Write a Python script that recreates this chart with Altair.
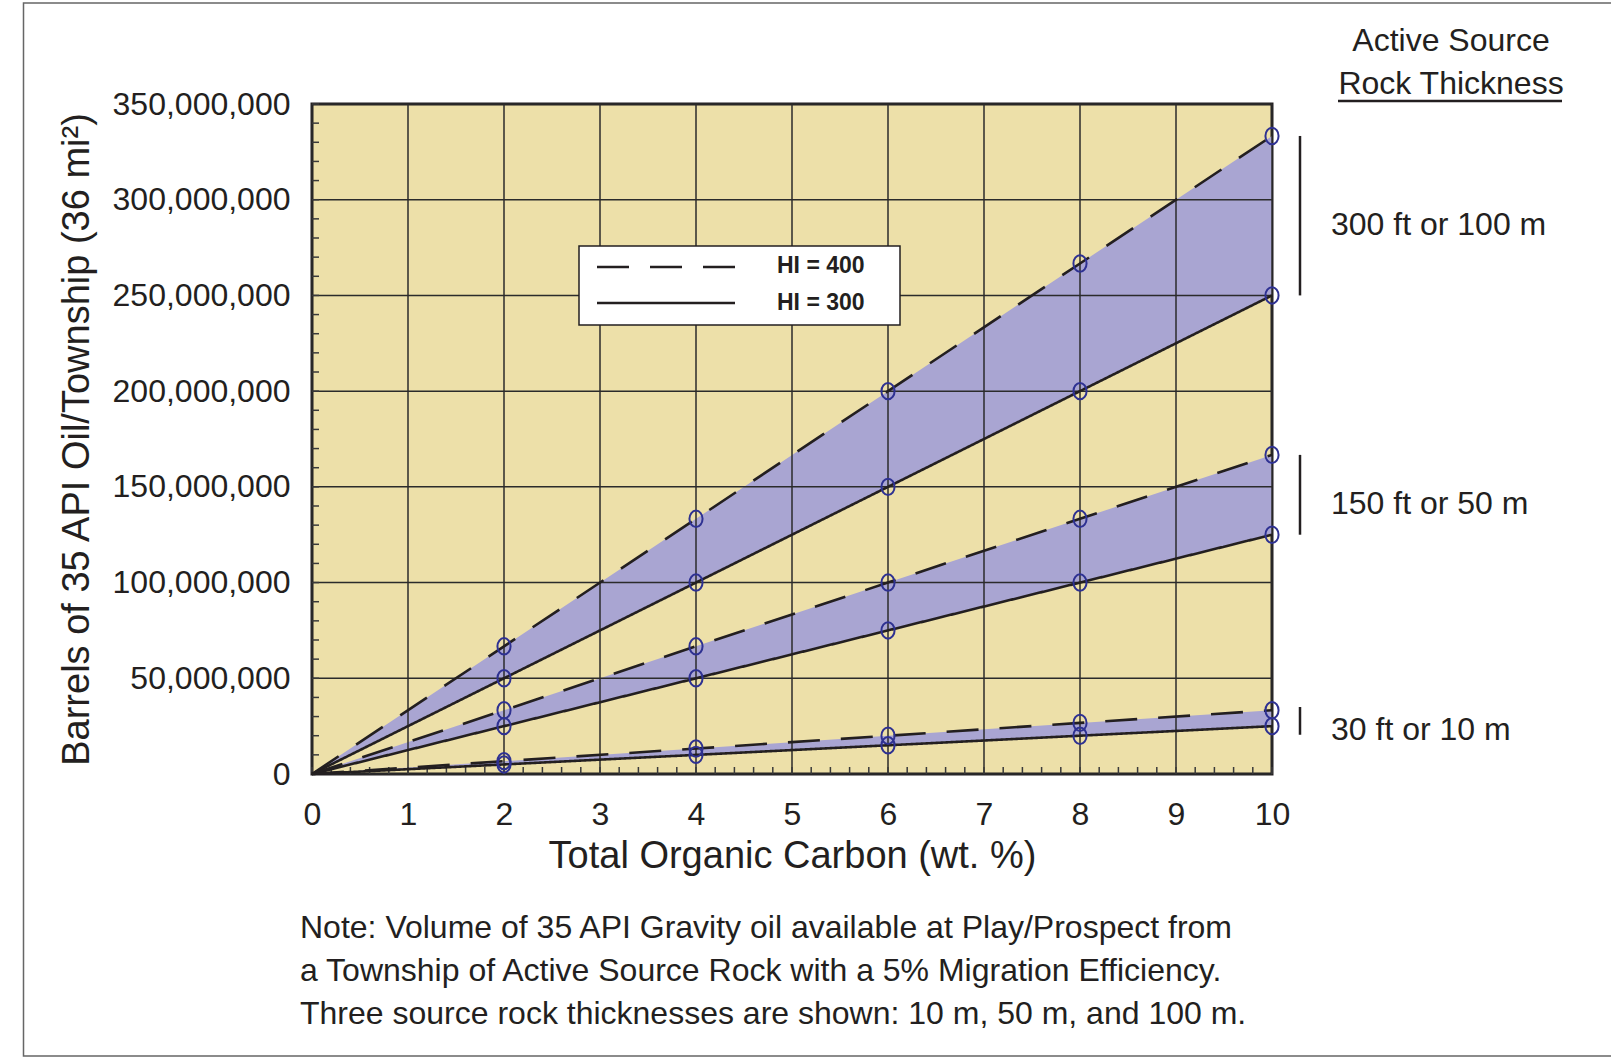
import altair as alt
import pandas as pd

# ---------------- data ----------------
toc = [0, 2, 4, 6, 8, 10]
thickness_labels = ["300 ft or 100 m", "150 ft or 50 m", "30 ft or 10 m"]

hi300_100m = [0, 50e6, 100e6, 150e6, 200e6, 250e6]
hi400_100m = [0, 66.7e6, 133.3e6, 200e6, 266.7e6, 333.3e6]
hi300_50m = [0, 25e6, 50e6, 75e6, 100e6, 125e6]
hi400_50m = [0, 33.3e6, 66.7e6, 100e6, 133.3e6, 166.7e6]
hi300_10m = [0, 5e6, 10e6, 15e6, 20e6, 25e6]
hi400_10m = [0, 6.7e6, 13.3e6, 20e6, 26.7e6, 33.3e6]

# extent of the thickness brackets drawn right of the plot
bracket_top = [333.3e6, 166.7e6, 35e6]
bracket_bottom = [250e6, 125e6, 20.5e6]

x_major = [0, 1, 2, 3, 4, 5, 6, 7, 8, 9, 10]
y_major = [0, 50e6, 100e6, 150e6, 200e6, 250e6, 300e6, 350e6]
x_minor = [round(i * 0.2, 1) for i in range(51)]
y_minor = [i * 10_000_000 for i in range(36)]

legend_labels = ["HI = 400", "HI = 300"]
side_title = ["Active Source", "Rock Thickness"]
note_lines = [
    "Note: Volume of 35 API Gravity oil available at Play/Prospect from",
    "a Township of Active Source Rock with a 5% Migration Efficiency.",
    "Three source rock thicknesses are shown: 10 m, 50 m, and 100 m.",
]

# ---------------- tables ----------------
hi300 = {thickness_labels[0]: hi300_100m, thickness_labels[1]: hi300_50m, thickness_labels[2]: hi300_10m}
hi400 = {thickness_labels[0]: hi400_100m, thickness_labels[1]: hi400_50m, thickness_labels[2]: hi400_10m}

line_rows, band_rows = [], []
for th in thickness_labels:
    for i, t in enumerate(toc):
        line_rows.append({"toc": t, "value": hi300[th][i], "hi": "HI = 300", "thick": th, "series": th + "300"})
        line_rows.append({"toc": t, "value": hi400[th][i], "hi": "HI = 400", "thick": th, "series": th + "400"})
        band_rows.append({"toc": t, "lo": hi300[th][i], "up": hi400[th][i], "thick": th})
lines_df = pd.DataFrame(line_rows)
band_df = pd.DataFrame(band_rows)
points_df = lines_df[lines_df["toc"] > 0]
bracket_df = pd.DataFrame({"thick": thickness_labels, "lo": bracket_bottom, "up": bracket_top})
bracket_df["mid"] = (bracket_df["lo"] + bracket_df["up"]) / 2

one = pd.DataFrame({"k": [0]})

INK = "#231f20"
FONT = "Liberation Sans"
W, H = 960, 670

xs = alt.Scale(domain=[0, 10], nice=False, zero=False)
ys = alt.Scale(domain=[0, 350e6], nice=False, zero=False)

x_axis = alt.Axis(
    values=x_major, format="d",
    title="Total Organic Carbon (wt. %)", grid=False, domain=False, ticks=False,
    labelFontSize=32, labelColor=INK, labelPadding=25, labelOverlap=False, labelFlush=False,
    titleFontSize=38, titleFontWeight="normal", titleColor=INK, titlePadding=7,
)
y_axis = alt.Axis(
    values=y_major, format=",d",
    title="Barrels of 35 API Oil/Township (36 mi²)", grid=False, domain=False, ticks=False,
    labelFontSize=32, labelColor=INK, labelPadding=22, labelOverlap=False, labelFlush=False,
    titleFontSize=38, titleFontWeight="normal", titleColor=INK, titlePadding=16,
)


def X(field):
    return alt.X(field, scale=xs, axis=x_axis)


def Y(field):
    return alt.Y(field, scale=ys, axis=y_axis)


band = alt.Chart(band_df).mark_area(color="#A9A5D2", opacity=1).encode(
    x=X("toc:Q"), y=Y("lo:Q"), y2="up:Q", detail="thick:N",
)

vgrid = alt.Chart(pd.DataFrame({"toc": x_major})).mark_rule(color="#2b2b2b", strokeWidth=1.5).encode(
    x=X("toc:Q")
)
hgrid = alt.Chart(pd.DataFrame({"value": y_major})).mark_rule(color="#2b2b2b", strokeWidth=1.5).encode(
    y=Y("value:Q")
)

# minor ticks inside the frame (bottom and left)
xticks = alt.Chart(pd.DataFrame({"toc": x_minor, "base": 0})).mark_tick(
    orient="vertical", size=7, thickness=1.5, color="#3a3a3a", yOffset=-3.5, opacity=1
).encode(x=X("toc:Q"), y=Y("base:Q"))
yticks = alt.Chart(pd.DataFrame({"value": y_minor, "base": 0})).mark_tick(
    orient="horizontal", size=7, thickness=1.5, color="#3a3a3a", xOffset=3.5, opacity=1
).encode(y=Y("value:Q"), x=X("base:Q"))

lines = alt.Chart(lines_df).mark_line(color=INK, strokeWidth=2.6).encode(
    x=X("toc:Q"), y=Y("value:Q"),
    detail="series:N",
    strokeDash=alt.StrokeDash("hi:N", scale=alt.Scale(domain=legend_labels, range=[[32, 21], [1, 0]]), legend=None),
)

ellipse = "M0,-1A0.8,1,0,1,1,0,1A0.8,1,0,1,1,0,-1Z"
points = alt.Chart(points_df).mark_point(
    shape=ellipse, size=270, filled=False, color="#2E3192", strokeWidth=2, opacity=1
).encode(x=X("toc:Q"), y=Y("value:Q"))

brackets = alt.Chart(bracket_df).mark_rule(color=INK, strokeWidth=2.5).encode(
    x=alt.value(988), y=Y("lo:Q"), y2="up:Q",
)
bracket_text = alt.Chart(bracket_df).mark_text(
    align="left", baseline="middle", fontSize=32, color=INK, dy=9
).encode(x=alt.value(1019), y=Y("mid:Q"), text="thick:N")

deco = []
# side title
deco.append(alt.Chart(one).mark_text(align="center", baseline="middle", fontSize=32, color=INK).encode(
    x=alt.value(1139), y=alt.value(-63), text=alt.value(side_title[0])))
deco.append(alt.Chart(one).mark_text(align="center", baseline="middle", fontSize=32, color=INK).encode(
    x=alt.value(1139), y=alt.value(-20), text=alt.value(side_title[1])))
deco.append(alt.Chart(one).mark_rule(color=INK, strokeWidth=2.5).encode(
    x=alt.value(1026), x2=alt.value(1250), y=alt.value(-3)))

# legend box
deco.append(alt.Chart(one).mark_rect(fill="white", stroke=INK, strokeWidth=1.5).encode(
    x=alt.value(267), x2=alt.value(588), y=alt.value(142), y2=alt.value(221)))
deco.append(alt.Chart(one).mark_rule(color=INK, strokeWidth=2.6, strokeDash=[32, 21]).encode(
    x=alt.value(285), x2=alt.value(423), y=alt.value(163)))
deco.append(alt.Chart(one).mark_rule(color=INK, strokeWidth=2.6).encode(
    x=alt.value(285), x2=alt.value(423), y=alt.value(199)))
deco.append(alt.Chart(one).mark_text(align="left", baseline="middle", fontSize=23, fontWeight="bold", color=INK).encode(
    x=alt.value(465), y=alt.value(162), text=alt.value(legend_labels[0])))
deco.append(alt.Chart(one).mark_text(align="left", baseline="middle", fontSize=23, fontWeight="bold", color=INK).encode(
    x=alt.value(465), y=alt.value(199), text=alt.value(legend_labels[1])))

# note
for i, ln in enumerate(note_lines):
    deco.append(alt.Chart(one).mark_text(align="left", baseline="middle", fontSize=32, color=INK).encode(
        x=alt.value(-12), y=alt.value(824 + 43 * i), text=alt.value(ln)))

# outer border
deco.append(alt.Chart(one).mark_rect(fill=None, stroke="#666666", strokeWidth=1.5).encode(
    x=alt.value(-288.5), x2=alt.value(1304), y=alt.value(-101), y2=alt.value(952)))

chart = alt.layer(band, vgrid, hgrid, xticks, yticks, lines, points, brackets, bracket_text, *deco).properties(
    width=W, height=H,
    autosize=alt.AutoSizeParams(type="none"),
    padding={"left": 312, "top": 104, "right": 339, "bottom": 284},
).configure(font=FONT, background="white").configure_view(
    fill="#EDE0A9", stroke=INK, strokeWidth=3
)

chart.save("out.html", embed_options={"renderer": "svg", "actions": False})
